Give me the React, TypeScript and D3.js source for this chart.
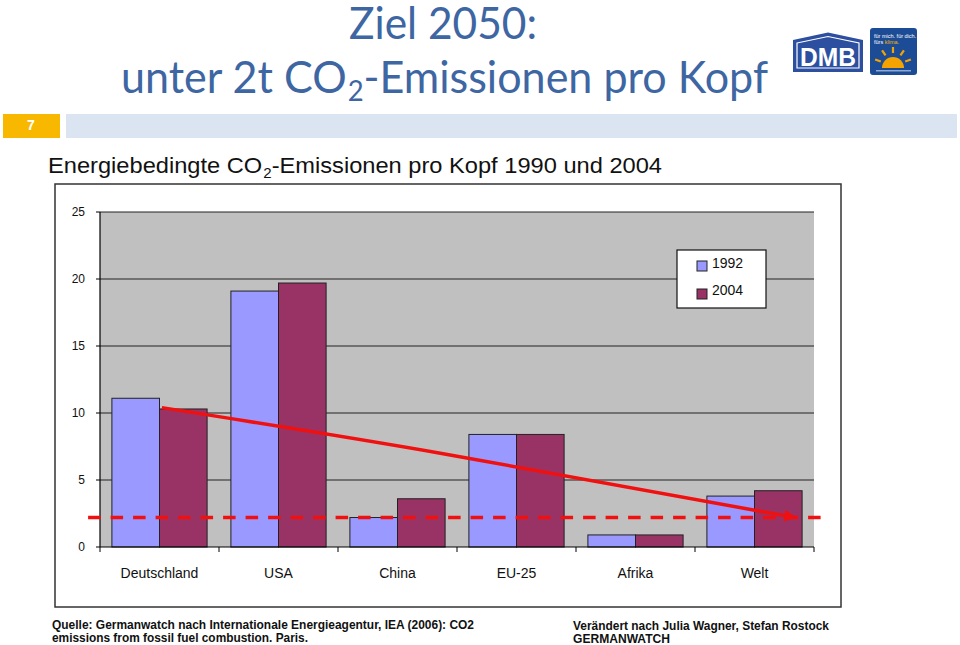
import React from "react";
import * as d3 from "d3";

const categories = ["Deutschland", "USA", "China", "EU-25", "Afrika", "Welt"];
const seriesNames = ["1992", "2004"];
const values1992 = [11.1, 19.1, 2.2, 8.4, 0.9, 3.8];
const values2004 = [10.3, 19.7, 3.6, 8.4, 0.9, 4.2];
const yTicks = [0, 5, 10, 15, 20, 25];
const targetValue = 2.2;
const targetSpan = [-0.1, 6.13]; // in category-index units
const trendPoints: [number, number][] = [
  [0.52, 10.4],
  [2.86, 7.0],
  [5.84, 2.2],
];

const seriesColors = ["#9999FF", "#993366"];
const RED = "#F01010";
const TITLE_BLUE = "#3D66A3";

export default function App() {
  const W = 960,
    H = 645;
  const plot = { left: 100, right: 814, top: 212, bottom: 547 };

  const x0 = d3.scaleBand().domain(categories).range([plot.left, plot.right]).padding(0);
  const bw = x0.bandwidth();
  const x1 = d3.scaleBand().domain(seriesNames).range([bw * 0.1, bw * 0.9]).padding(0);
  const y = d3.scaleLinear().domain([0, 25]).range([plot.bottom, plot.top]);
  const xi = d3.scaleLinear().domain([0, 6]).range([plot.left, plot.right]);

  const seriesValues = [values1992, values2004];

  const trendLine = d3
    .line<[number, number]>()
    .x((d) => xi(d[0]))
    .y((d) => y(d[1]))
    .curve(d3.curveNatural);

  return (
    <svg
      width={W}
      height={H}
      style={{ position: "absolute", left: 0, top: 0, background: "#fff" }}
      fontFamily="Arial, 'Liberation Sans', sans-serif"
    >
      <defs>
        <marker
          id="arrow"
          viewBox="0 0 10 10"
          refX="9"
          refY="5"
          markerWidth="4"
          markerHeight="3.4"
          orient="auto"
          markerUnits="strokeWidth"
        >
          <path d="M0,0 L10,5 L0,10 z" fill={RED} />
        </marker>
      </defs>

      {/* Title */}
      <text
        x={349}
        y={39}
        fontFamily="Lato, 'Open Sans', sans-serif"
        fontSize={44}
        fill={TITLE_BLUE}
        textLength={188}
        lengthAdjust="spacingAndGlyphs"
      >
        Ziel 2050:
      </text>
      <text
        x={121}
        y={93}
        fontFamily="Lato, 'Open Sans', sans-serif"
        fontSize={44}
        fill={TITLE_BLUE}
        textLength={647}
        lengthAdjust="spacingAndGlyphs"
      >
        unter 2t CO
        <tspan fontSize={28} dy={8} dx={1}>
          2
        </tspan>
        <tspan dy={-8}>-Emissionen pro Kopf</tspan>
      </text>

      {/* Logo DMB */}
      <path d="M793,40 L828,32.5 L863,40 L863,72 L793,72 Z" fill="#2D4F9F" />
      <path d="M797,43 L828,36.5 L859,43 L859,68 L797,68 Z" fill="none" stroke="#fff" strokeWidth={1.2} />
      <text
        x={828}
        y={66}
        textAnchor="middle"
        fontSize={26}
        fontWeight="bold"
        fill="#fff"
        textLength={56}
        lengthAdjust="spacingAndGlyphs"
      >
        DMB
      </text>
      <rect x={870} y={28} width={47} height={47} rx={3} fill="#1C4C95" />
      <text x={874} y={38} fontSize={5.5} fill="#fff">
        für mich. für dich.
      </text>
      <text x={874} y={44} fontSize={5.5} fill="#fff">
        fürs <tspan fill="#F7B500">klima.</tspan>
      </text>
      <path d="M882,68 A11,11 0 0 1 904,68 Z" fill="#F5A300" />
      {[-70, -35, 0, 35, 70].map((a, i) => {
        const r = (a * Math.PI) / 180;
        return (
          <line
            key={i}
            x1={893 + Math.sin(r) * 13}
            y1={66 - Math.cos(r) * 13}
            x2={893 + Math.sin(r) * 19}
            y2={66 - Math.cos(r) * 19}
            stroke="#F5A300"
            strokeWidth={2.2}
          />
        );
      })}
      <rect x={876} y={70} width={35} height={1.5} fill="#8FA8D0" />

      {/* Header band */}
      <rect x={3} y={114} width={57} height={24} fill="#F9B800" />
      <text x={31} y={130} textAnchor="middle" fontSize={14} fontWeight="bold" fill="#fff">
        7
      </text>
      <rect x={66} y={114} width={891} height={24} fill="#DBE5F1" />

      {/* Subtitle */}
      <text x={48} y={173} fontSize={22} fill="#111" textLength={614} lengthAdjust="spacingAndGlyphs">
        Energiebedingte CO
        <tspan fontSize={14} dy={5} dx={1}>
          2
        </tspan>
        <tspan dy={-5}>-Emissionen pro Kopf 1990 und 2004</tspan>
      </text>

      {/* Chart frame */}
      <rect x={55} y={184} width={786} height={423} fill="#fff" stroke="#333" strokeWidth={1.5} />

      {/* Plot background */}
      <rect
        x={plot.left}
        y={plot.top}
        width={plot.right - plot.left}
        height={plot.bottom - plot.top}
        fill="#C0C0C0"
      />

      {/* Gridlines */}
      {yTicks
        .filter((t) => t > 0)
        .map((t) => (
          <line key={t} x1={plot.left} x2={plot.right} y1={y(t)} y2={y(t)} stroke="#222" strokeWidth={1} />
        ))}

      {/* Bars */}
      {categories.map((c, ci) => (
        <g key={c} transform={`translate(${x0(c)},0)`}>
          {seriesNames.map((s, si) => {
            const v = seriesValues[si][ci];
            return (
              <rect
                key={s}
                x={x1(s)}
                y={y(v)}
                width={x1.bandwidth()}
                height={y(0) - y(v)}
                fill={seriesColors[si]}
                stroke="#222"
                strokeWidth={1}
              />
            );
          })}
        </g>
      ))}

      {/* Axes */}
      <line x1={plot.left} x2={plot.left} y1={plot.top} y2={plot.bottom} stroke="#000" strokeWidth={1.2} />
      <line x1={plot.left} x2={plot.right} y1={plot.bottom} y2={plot.bottom} stroke="#000" strokeWidth={1.2} />
      {yTicks.map((t) => (
        <g key={t}>
          <line x1={plot.left - 4} x2={plot.left} y1={y(t)} y2={y(t)} stroke="#000" />
          <text x={85} y={y(t) + 4} textAnchor="end" fontSize={12} fill="#111">
            {t}
          </text>
        </g>
      ))}
      {d3.range(categories.length + 1).map((i) => (
        <line key={i} x1={xi(i)} x2={xi(i)} y1={plot.bottom} y2={plot.bottom + 5} stroke="#000" />
      ))}
      {categories.map((c) => (
        <text key={c} x={(x0(c) as number) + bw / 2} y={578} textAnchor="middle" fontSize={14} fill="#111">
          {c}
        </text>
      ))}

      {/* Target dashed line */}
      <line
        x1={xi(targetSpan[0])}
        x2={xi(targetSpan[1])}
        y1={y(targetValue)}
        y2={y(targetValue)}
        stroke={RED}
        strokeWidth={3.5}
        strokeDasharray="12.5 10"
      />

      {/* Trend arrow */}
      <path
        d={trendLine(trendPoints) || ""}
        fill="none"
        stroke={RED}
        strokeWidth={3.5}
        markerEnd="url(#arrow)"
      />

      {/* Legend */}
      <rect x={677} y={250} width={89} height={58} fill="#fff" stroke="#111" strokeWidth={1.2} />
      {seriesNames.map((s, i) => (
        <g key={s}>
          <rect x={697} y={261 + i * 28} width={10} height={10} fill={seriesColors[i]} stroke="#222" />
          <text x={712} y={268 + i * 27} fontSize={14} fill="#111">
            {s}
          </text>
        </g>
      ))}

      {/* Footer */}
      <g fontWeight="bold" fontSize={12.5} fill="#111">
        <text x={52} y={629} textLength={422} lengthAdjust="spacingAndGlyphs">
          Quelle: Germanwatch nach Internationale Energieagentur, IEA (2006): CO2
        </text>
        <text x={52} y={642} textLength={256} lengthAdjust="spacingAndGlyphs">
          emissions from fossil fuel combustion. Paris.
        </text>
        <text x={573} y={630} textLength={256} lengthAdjust="spacingAndGlyphs">
          Verändert nach Julia Wagner, Stefan Rostock
        </text>
        <text x={573} y={643} textLength={97} lengthAdjust="spacingAndGlyphs">
          GERMANWATCH
        </text>
      </g>
    </svg>
  );
}
